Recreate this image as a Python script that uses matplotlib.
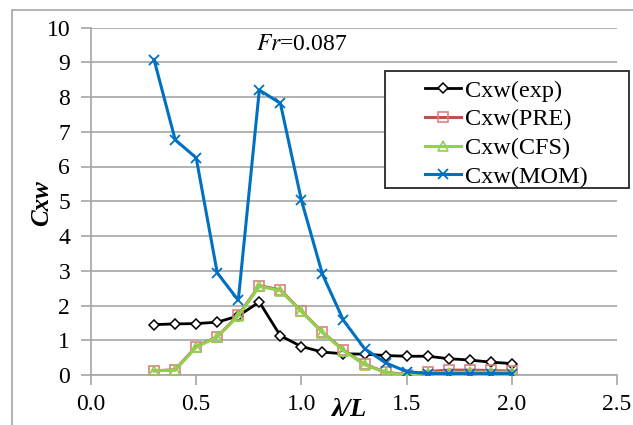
import matplotlib.pyplot as plt
from matplotlib.patches import Rectangle

# wavelength ratio
lam = [0.3, 0.4, 0.5, 0.6, 0.7, 0.8, 0.9, 1.0, 1.1, 1.2,
       1.3, 1.4, 1.5, 1.6, 1.7, 1.8, 1.9, 2.0]

cxw_exp = [1.45, 1.47, 1.48, 1.52, 1.70, 2.10, 1.13, 0.82, 0.66, 0.61,
           0.60, 0.56, 0.54, 0.54, 0.47, 0.43, 0.37, 0.33]
cxw_pre = [0.12, 0.15, 0.82, 1.10, 1.72, 2.57, 2.45, 1.84, 1.23, 0.72,
           0.31, 0.08, 0.01, 0.10, 0.14, 0.14, 0.13, 0.11]
cxw_cfs = [0.12, 0.14, 0.80, 1.10, 1.70, 2.55, 2.43, 1.83, 1.22, 0.70,
           0.30, 0.07, 0.00, 0.06, 0.07, 0.08, 0.08, 0.08]
cxw_mom = [9.07, 6.77, 6.25, 2.94, 2.15, 8.20, 7.82, 5.03, 2.90, 1.57,
           0.76, 0.35, 0.10, 0.04, 0.04, 0.04, 0.04, 0.04]

series_labels = ['Cxw(exp)', 'Cxw(PRE)', 'Cxw(CFS)', 'Cxw(MOM)']
x_ticks = [0.0, 0.5, 1.0, 1.5, 2.0, 2.5]
y_ticks = list(range(0, 11))

plt.rcParams['font.family'] = ['Liberation Serif', 'DejaVu Serif']
plt.rcParams['mathtext.fontset'] = 'stix'

fig = plt.figure(figsize=(6.33, 4.25), dpi=100)
ax = fig.add_axes([91 / 633, 1 - 375 / 425, (617 - 91) / 633, (375 - 27.5) / 425])

# outer chart frame
fig.patches.append(Rectangle((12 / 633, -0.1), 1.2, 1 - 10 / 425 + 0.1,
                             transform=fig.transFigure, fill=False,
                             edgecolor='#a6a6a6', linewidth=1.2))

ax.plot(lam, cxw_exp, color='black', lw=2, marker='D', ms=5.5,
        mfc='white', mec='black', mew=1.1, label=series_labels[0], zorder=3)
ax.plot(lam, cxw_pre, color='#c0504d', lw=2.2, marker='s', ms=7,
        mfc='none', mec='#d9827f', mew=1.2, label=series_labels[1], zorder=4)
ax.plot(lam, cxw_cfs, color='#92d050', lw=2.2, marker='^', ms=7,
        mfc='none', mec='#92d050', mew=1.2, label=series_labels[2], zorder=5)
ax.plot(lam, cxw_mom, color='#0070c0', lw=2.2, marker='x', ms=7,
        mec='#0070c0', mew=1.3, label=series_labels[3], zorder=6)

ax.set_xlim(0, 2.5)
ax.set_ylim(0, 10)
ax.set_xticks(x_ticks)
ax.set_xticklabels([f'{v:.1f}' for v in x_ticks])
ax.set_yticks(y_ticks)
ax.grid(axis='y', color='#a6a6a6', lw=1.2)
ax.set_axisbelow(True)

for side in ['top', 'right']:
    ax.spines[side].set_visible(False)
for side in ['left', 'bottom']:
    ax.spines[side].set_color('#a6a6a6')
    ax.spines[side].set_linewidth(1.2)
ax.tick_params(axis='both', colors='#a6a6a6', labelcolor='black',
               labelsize=17, length=7, width=1.2, direction='out')
ax.tick_params(axis='y', pad=8)
ax.tick_params(axis='x', pad=7)

ax.text(1.0, 9.5, r'$Fr$=0.087', fontsize=17, ha='center', va='center')

fig.text(42 / 633, 1 - 203 / 425, 'Cxw', fontsize=18, rotation=90,
         fontweight='bold', fontstyle='italic', ha='center', va='center')
fig.text(350 / 633, 1 - 410 / 425, 'λ/L', fontsize=19,
         fontweight='bold', fontstyle='italic', ha='center', va='center')

# legend box (wider than its entries, as in the source chart)
ax.add_patch(Rectangle((385 / 633, 1 - 188 / 425), (629 - 385) / 633,
                       (188 - 71) / 425, transform=fig.transFigure,
                       facecolor='white', edgecolor='#262626',
                       linewidth=1.3, zorder=9, clip_on=False))

leg = ax.legend(loc='upper left', bbox_to_anchor=(420 / 633, 1 - 75 / 425),
                bbox_transform=fig.transFigure, borderaxespad=0,
                fontsize=17.5, frameon=False,
                handlelength=1.5, handletextpad=0.15, labelspacing=0.27,
                borderpad=0.2)
leg.set_zorder(10)

fig.savefig('out.png', dpi=100)
